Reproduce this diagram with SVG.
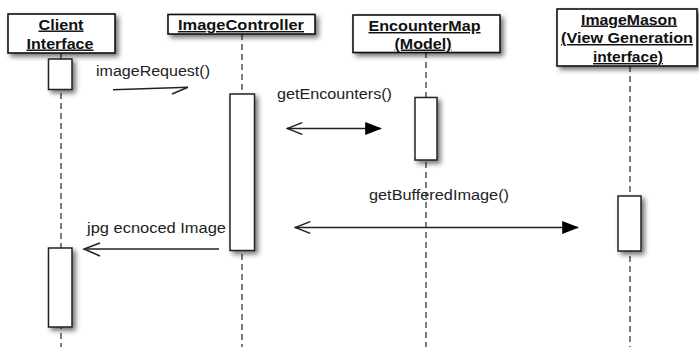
<svg xmlns="http://www.w3.org/2000/svg" width="699" height="348" viewBox="0 0 699 348">
<defs>
<filter id="sh" x="-30%" y="-30%" width="180%" height="180%">
<feDropShadow dx="3" dy="3" stdDeviation="2.5" flood-color="#000" flood-opacity="0.55"/>
</filter>
<marker id="open" viewBox="0 0 20 16" refX="1" refY="8" markerWidth="17" markerHeight="13.6" markerUnits="userSpaceOnUse" orient="auto">
<path d="M19,1 L1,8 L19,15" fill="none" stroke="#222" stroke-width="1.6"/>
</marker>
<marker id="filled" viewBox="0 0 18 14" refX="17" refY="7" markerWidth="17" markerHeight="13" markerUnits="userSpaceOnUse" orient="auto">
<path d="M0,0 L18,7 L0,14 Z" fill="#000"/>
</marker>
</defs>
<style>
.box{fill:#fff;stroke:#111;stroke-width:1.6;filter:url(#sh)}
.act{fill:#fff;stroke:#222;stroke-width:1.5;filter:url(#sh)}
.life{stroke:#444;stroke-width:1.4;stroke-dasharray:6,4;fill:none}
.hd{font-family:"Liberation Sans",Arial,sans-serif;font-weight:bold;font-size:14.5px;text-decoration:underline;fill:#111;text-anchor:middle}
.lb{font-family:"Liberation Sans",Arial,sans-serif;font-size:14px;fill:#222}
.msg{stroke:#222;stroke-width:1.5;fill:none}
</style>
<rect width="699" height="348" fill="#fff"/>
<g id="lifelines">
<line class="life" x1="61" y1="53" x2="61" y2="347"/>
<line class="life" x1="242" y1="34" x2="242" y2="347"/>
<line class="life" x1="426" y1="52" x2="426" y2="347"/>
<line class="life" x1="630" y1="66" x2="630" y2="347"/>
</g>
<g id="client">
<rect class="box" x="8" y="14" width="107" height="39"/>
<text class="hd" x="61" y="29.5" textLength="45" lengthAdjust="spacingAndGlyphs">Client</text>
<text class="hd" x="60" y="48.5" textLength="67" lengthAdjust="spacingAndGlyphs">Interface</text>
<rect class="act" x="48.5" y="59" width="23.5" height="30.5"/>
<rect class="act" x="48.5" y="248" width="23.5" height="79"/>
</g>
<g id="imagecontroller">
<rect class="box" x="168" y="14.5" width="147" height="19.5"/>
<text class="hd" x="241" y="30" textLength="126" lengthAdjust="spacingAndGlyphs">ImageController</text>
<rect class="act" x="230" y="94" width="24.5" height="156.5"/>
</g>
<g id="encountermap">
<rect class="box" x="353" y="15" width="147" height="37.5"/>
<text class="hd" x="424.5" y="31" textLength="112" lengthAdjust="spacingAndGlyphs">EncounterMap</text>
<text class="hd" x="423" y="48.5" textLength="57" lengthAdjust="spacingAndGlyphs">(Model)</text>
<rect class="act" x="415" y="97.5" width="22" height="62.5"/>
</g>
<g id="imagemason">
<rect class="box" x="557" y="9" width="140" height="57"/>
<text class="hd" x="629" y="24.5" textLength="96" lengthAdjust="spacingAndGlyphs">ImageMason</text>
<text class="hd" x="627" y="43" textLength="132" lengthAdjust="spacingAndGlyphs">(View Generation</text>
<text class="hd" x="628" y="62" textLength="70" lengthAdjust="spacingAndGlyphs">interface)</text>
<rect class="act" x="618" y="196" width="23" height="55"/>
</g>
<g id="connectors">
<line class="msg" x1="113" y1="89.8" x2="188" y2="87.3"/>
<line class="msg" x1="188" y1="87.3" x2="172" y2="94"/>
<line class="msg" x1="287" y1="128.5" x2="381" y2="128.5" marker-start="url(#open)" marker-end="url(#filled)"/>
<line class="msg" x1="295" y1="227.5" x2="578" y2="227.5" marker-start="url(#open)" marker-end="url(#filled)"/>
<line class="msg" x1="219" y1="249" x2="85" y2="249"/>
<path d="M100,243 L84,249 L100,256" fill="none" stroke="#222" stroke-width="1.5"/>
</g>
<g id="labels">
<text class="lb" x="96" y="76" textLength="114" lengthAdjust="spacingAndGlyphs">imageRequest()</text>
<text class="lb" x="277" y="99" textLength="115" lengthAdjust="spacingAndGlyphs">getEncounters()</text>
<text class="lb" x="369" y="200" textLength="140" lengthAdjust="spacingAndGlyphs">getBufferedImage()</text>
<text class="lb" x="87" y="233" textLength="139" lengthAdjust="spacingAndGlyphs">jpg ecnoced Image</text>
</g>
</svg>
